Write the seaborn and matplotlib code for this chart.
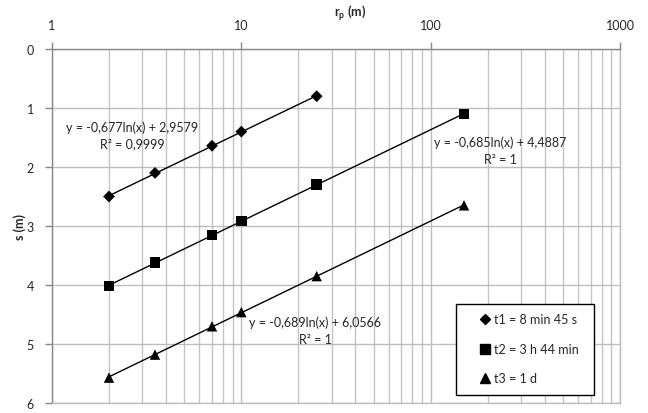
import numpy as np
import pandas as pd
import matplotlib
matplotlib.use("Agg")
import matplotlib.pyplot as plt
import seaborn as sns
from matplotlib.lines import Line2D
from matplotlib.patches import Rectangle
from matplotlib.ticker import LogLocator, FixedLocator, NullFormatter

sns.set_theme(style="white")
plt.rcParams['font.family'] = ['Lato', 'DejaVu Sans']
plt.rcParams['mathtext.fontset'] = 'custom'
plt.rcParams['mathtext.rm'] = 'Lato'
plt.rcParams['mathtext.bf'] = 'Lato:bold'

# data
r1 = [2, 3.5, 7, 10, 25]
s1 = [2.50, 2.10, 1.64, 1.40, 0.80]
r2 = [2, 3.5, 7, 10, 25, 150]
s2 = [4.02, 3.62, 3.15, 2.92, 2.30, 1.10]
r3 = [2, 3.5, 7, 10, 25, 150]
s3 = [5.57, 5.18, 4.70, 4.46, 3.85, 2.65]
labels = ["t1 = 8 min 45 s", "t2 = 3 h 44 min", "t3 = 1 d"]
eqs = ["y = -0,677ln(x) + 2,9579\nR² = 0,9999",
       "y = -0,685ln(x) + 4,4887\nR² = 1",
       "y = -0,689ln(x) + 6,0566\nR² = 1"]
y_ticks = [0, 1, 2, 3, 4, 5, 6]
x_ticks = [1, 10, 100, 1000]

W, H = 648, 414
fig = plt.figure(figsize=(W / 100, H / 100), dpi=100)
ax = fig.add_axes([52 / W, 1 - 404 / H, (620 - 52) / W, (404 - 50) / H])

ax.set_xscale('log')
ax.set_xlim(1, 1000)
ax.set_ylim(6, 0)

markers = ['D', 's', '^']
sizes = [6, 7.5, 7.5]
series = [(r1, s1), (r2, s2), (r3, s3)]
for (r, s), m, ms in zip(series, markers, sizes):
    sns.regplot(x=np.array(r, dtype=float), y=np.array(s), logx=True, ci=None, ax=ax,
                marker=m, color='black', truncate=True,
                scatter_kws=dict(s=ms ** 2, edgecolors='none', zorder=4, alpha=1),
                line_kws=dict(lw=1.0, zorder=3))

ax.set_xlabel('')
ax.set_ylabel('')

# grid
ax.xaxis.set_major_locator(FixedLocator(x_ticks))
ax.xaxis.set_minor_locator(LogLocator(base=10, subs=np.arange(2, 10)))
ax.xaxis.set_minor_formatter(NullFormatter())
ax.set_xticklabels([str(v) for v in x_ticks])
ax.set_yticks(y_ticks)
ax.set_yticklabels([str(v) for v in y_ticks])
ax.grid(True, which='major', color='#bdbdbd', lw=1.0)
ax.grid(True, which='minor', axis='x', color='#c4c4c4', lw=1.0)
ax.set_axisbelow(True)

ax.xaxis.tick_top()
ax.tick_params(axis='x', which='major', top=True, bottom=False, length=5, width=1,
               color='#888888', labelsize=9, pad=8)
ax.tick_params(axis='x', which='minor', top=False, bottom=False)
ax.tick_params(axis='y', left=True, length=5, width=1, color='#888888', labelsize=9, pad=8)
for sp in ['left', 'top']:
    ax.spines[sp].set_color('#888888')
    ax.spines[sp].set_linewidth(1)
for sp in ['right', 'bottom']:
    ax.spines[sp].set_color('#bdbdbd')
    ax.spines[sp].set_linewidth(1)

# axis labels
fig.text(350 / W, 1 - 13 / H, r'r$_\mathbf{p}$ (m)', ha='center', va='center',
         fontsize=9, fontweight='bold')
fig.text(20 / W, 1 - 227 / H, 's (m)', ha='center', va='center', rotation=90,
         fontsize=9, fontweight='bold')

# equations
for (px, py), t in zip([(132, 136), (500, 151), (315, 331)], eqs):
    fig.text(px / W, 1 - py / H, t, ha='center', va='center', fontsize=9,
             linespacing=1.45)

# legend frame and legend
fig.patches.append(Rectangle((456 / W, 1 - 396 / H), 138 / W, 91 / H,
                             transform=fig.transFigure, facecolor='white',
                             edgecolor='black', lw=1, zorder=5))
handles = [Line2D([], [], ls='none', marker=m, color='black', markersize=ms)
           for m, ms in zip(markers, [5, 6.5, 6.5])]
leg = fig.legend(handles, labels, loc='center left',
                 bbox_to_anchor=(481 / W, 1 - 350 / H),
                 frameon=False, fontsize=9,
                 labelspacing=1.4, handlelength=0.6, handletextpad=0.4,
                 borderpad=0.0, borderaxespad=0.0)
leg.set_zorder(6)

fig.savefig('out.png', dpi=100)
